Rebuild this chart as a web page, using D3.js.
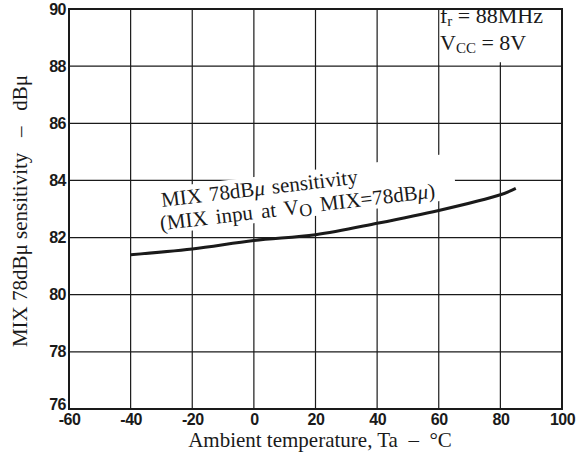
<!DOCTYPE html>
<html><head><meta charset="utf-8">
<script src="https://cdn.jsdelivr.net/npm/d3@7"></script>
<style>body{margin:0;background:#fff}svg{display:block}text{white-space:pre}</style>
</head><body>
<script>
const xTicks = [-60,-40,-20,0,20,40,60,80,100];
const yTicks = [76,78,80,82,84,86,88,90];
const temps = [-40,-20,0,20,40,60,80,85];
const sens  = [81.4,81.6,81.9,82.1,82.5,82.95,83.5,83.72];
const xTitle = "Ambient temperature, Ta  \u2013  \u00B0C";
const yTitle = "MIX 78dB\u03BC sensitivity   \u2013   dB\u03BC";

const W=579,H=462, L=69,R=562,T=9,B=409;
const svg=d3.select("body").append("svg").attr("width",W).attr("height",H);
const x=d3.scaleLinear().domain([-60,100]).range([L,R]);
const y=d3.scaleLinear().domain([76,90]).range([B,T]);
const ink="#1a1a1a";
const tickFont="'Liberation Sans', Arial, sans-serif";
const serif="'Liberation Serif','Times New Roman',serif";

// grid
const g=svg.append("g");
g.selectAll(".vx").data(xTicks.slice(1,-1)).join("line")
 .attr("x1",d=>x(d)).attr("x2",d=>x(d)).attr("y1",T).attr("y2",B)
 .attr("stroke",ink).attr("stroke-width",1.2);
g.selectAll(".hy").data(yTicks.slice(1,-1)).join("line")
 .attr("y1",d=>y(d)).attr("y2",d=>y(d)).attr("x1",L).attr("x2",R)
 .attr("stroke",ink).attr("stroke-width",1.2);

// condition box (cover grid in top-right cell)
svg.append("rect").attr("x",x(60)+1).attr("y",T+1).attr("width",R-x(60)-2).attr("height",y(88)-T-2).attr("fill","#fff");
svg.append("line").attr("x1",x(80)).attr("x2",x(80)).attr("y1",y(88)-4).attr("y2",y(88)).attr("stroke",ink).attr("stroke-width",1.2);

// frame
svg.append("rect").attr("x",L).attr("y",T).attr("width",R-L).attr("height",B-T)
 .attr("fill","none").attr("stroke",ink).attr("stroke-width",2);

// axes via d3
const xAxis=svg.append("g").attr("transform",`translate(0,${B})`)
 .call(d3.axisBottom(x).tickValues(xTicks).tickSize(0).tickPadding(5).tickFormat(d=>d<0?"-"+Math.abs(d):d));
const yAxis=svg.append("g").attr("transform",`translate(${L},0)`)
 .call(d3.axisLeft(y).tickValues(yTicks).tickSize(0).tickPadding(3));
[xAxis,yAxis].forEach(a=>{a.select(".domain").remove();
 a.selectAll("text").attr("font-family",tickFont).attr("font-weight","bold").attr("font-size",16).attr("fill",ink).attr("letter-spacing","-0.5");});
xAxis.selectAll("text").attr("dy","0.7em");
yAxis.selectAll("text").filter(d=>d===76).attr("dy","0.05em");

// curve
const line=d3.line().x((d,i)=>x(temps[i])).y(d=>y(d)).curve(d3.curveCatmullRom);
svg.append("path").datum(sens).attr("d",line).attr("fill","none").attr("stroke",ink).attr("stroke-width",3);

// curve label
const lab=svg.append("g").attr("transform","translate(162,207) rotate(-6.8)");
lab.append("rect").attr("x",-6).attr("y",-19).attr("width",300).attr("height",46).attr("fill","#fff");
lab.append("text").attr("x",0).attr("y",0).attr("font-family",serif).attr("font-size",21).attr("word-spacing",2).attr("fill",ink)
 .html("MIX 78dB<tspan font-style='italic'>\u03BC</tspan> sensitivity");
lab.append("text").attr("x",-4).attr("y",23).attr("font-family",serif).attr("font-size",21).attr("word-spacing",3).attr("fill",ink)
 .html("(MIX inpu at V<tspan font-size='18' dy='3'>O</tspan><tspan dy='-3'> MIX=78dB</tspan><tspan font-style='italic'>\u03BC</tspan>)");

// conditions
const c=svg.append("g").attr("font-family",serif).attr("font-size",22).attr("fill",ink);
c.append("text").attr("x",440).attr("y",23).html("f<tspan font-size='15' dy='3'>r</tspan><tspan dy='-3'> = 88MHz</tspan>");
c.append("text").attr("x",440).attr("y",50).html("V<tspan font-size='15' dy='3'>CC</tspan><tspan dy='-3'> = 8V</tspan>");

// titles
svg.append("text").attr("x",320).attr("y",447).attr("text-anchor","middle")
 .attr("font-family",serif).attr("font-size",21).attr("fill",ink).text(xTitle);
svg.append("text").attr("transform","translate(27,211) rotate(-90)").attr("text-anchor","middle")
 .attr("font-family",serif).attr("font-size",21).attr("fill",ink).text(yTitle);
</script>
</body></html>
